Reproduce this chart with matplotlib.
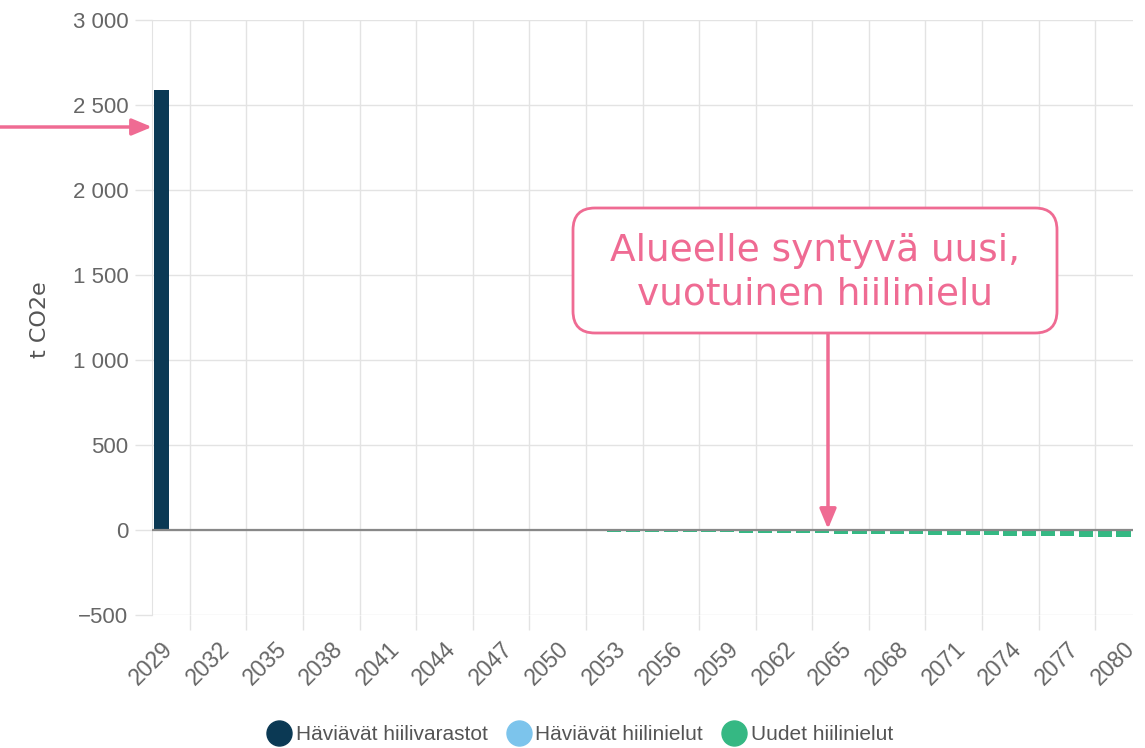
import matplotlib
matplotlib.use("Agg")
import matplotlib.pyplot as plt
import numpy as np
from matplotlib.patches import FancyBboxPatch
from matplotlib.lines import Line2D

# data
years = list(range(2029, 2081))
hiilivarastot = [2590] + [0] * 51
hiilinielut_haviavat = [0] * 52
uudet_hiilinielut = [
    0, -0.6, -0.8, -1.0, -1.3, -1.5, -1.8, -2.0, -2.3, -2.6, -2.9,
    -3.2, -3.5, -3.9, -4.2, -4.6, -5.0, -5.5, -6.0, -6.5, -7.0,
    -7.6, -8.2, -8.8, -9.5, -10.2, -11.0, -11.8, -12.6, -13.5, -14.4,
    -15.4, -16.4, -17.4, -18.5, -19.6, -20.8, -22.0, -23.2, -24.5, -25.8,
    -27.1, -28.5, -29.9, -31.3, -32.8, -34.3, -35.8, -37.4, -39.0, -40.6,
    -42.2,
]
series_names = ["Häviävät hiilivarastot", "Häviävät hiilinielut", "Uudet hiilinielut"]
series_colors = ["#0b3954", "#7cc4ec", "#35b883"]
y_ticks = [-500, 0, 500, 1000, 1500, 2000, 2500, 3000]
callout_text = "Alueelle syntyvä uusi,\nvuotuinen hiilinielu"

PINK = "#ef6b93"
GRID = "#e3e3e3"
TXT = "#666666"

W, H = 1145, 748
fig = plt.figure(figsize=(W / 100, H / 100), dpi=100)
ax = fig.add_axes([152 / W, 1 - 615 / H, (1133 - 152) / W, (615 - 20) / H])

x = np.arange(len(years))
for vals, col in zip([hiilivarastot, hiilinielut_haviavat, uudet_hiilinielut], series_colors):
    ax.bar(x, vals, width=0.75, color=col, zorder=2, linewidth=0)

ax.set_xlim(-0.5, len(years) - 0.5)
ax.set_ylim(-500, 3000)
ax.set_yticks(y_ticks)
ax.set_yticklabels([f"{v:,}".replace(",", " ").replace("-", "\u2212") for v in y_ticks],
                   fontsize=16, color=TXT, family="Liberation Sans")
ax.tick_params(axis="y", length=12, color=GRID, width=1, pad=5)
ax.grid(axis="y", color=GRID, lw=1, zorder=0)
ax.axhline(0, color="#888888", lw=1.6, zorder=3)

ax.set_xticks(x[::3])
ax.set_xticklabels([str(y) for y in years[::3]], rotation=45, ha="right",
                   rotation_mode="anchor", fontsize=16.5, color=TXT, family="Liberation Sans")
ax.tick_params(axis="x", which="major", length=0, pad=16)
ax.set_xticks(np.arange(1.5, len(years), 3), minor=True)
ax.tick_params(axis="x", which="minor", length=11, color=GRID, width=1)
ax.grid(axis="x", which="minor", color=GRID, lw=1, zorder=0)

for s in ["top", "right", "bottom"]:
    ax.spines[s].set_visible(False)
ax.spines["left"].set_color(GRID)

fig.text(40 / W, 1 - 320 / H, "t CO2e", rotation=90, ha="center", va="center",
         fontsize=16, color="#555555", family="DejaVu Sans")

# legend
handles = [Line2D([], [], marker="o", ls="", markersize=18, color=c) for c in series_colors]
leg = fig.legend(handles, series_names, loc="center", bbox_to_anchor=(581 / W, 1 - 735 / H),
                 ncol=3, frameon=False, fontsize=15, handletextpad=0.3, columnspacing=1.0,
                 handlelength=1.0)
for t in leg.get_texts():
    t.set_color("#555555")
    t.set_family(["Liberation Sans Narrow", "Liberation Sans"])

# annotations in pixel space
ov = fig.add_axes([0, 0, 1, 1], zorder=5)
ov.set_xlim(0, W)
ov.set_ylim(H, 0)
ov.axis("off")
ov.patch.set_alpha(0)

box = FancyBboxPatch((573, 208), 1057 - 573, 333 - 208,
                     boxstyle="round,pad=0,rounding_size=22",
                     fc="white", ec=PINK, lw=2)
ov.add_patch(box)
ov.text(815, 273, callout_text, ha="center", va="center", fontsize=27,
        color=PINK, family="DejaVu Sans", linespacing=1.28)

ov.annotate("", xy=(828, 529), xytext=(828, 334),
            arrowprops=dict(arrowstyle="-|>,head_length=1.2,head_width=0.5",
                            color=PINK, lw=2.5, shrinkA=0, shrinkB=0))
ov.annotate("", xy=(152, 127), xytext=(0, 127),
            arrowprops=dict(arrowstyle="-|>,head_length=1.2,head_width=0.5",
                            color=PINK, lw=2.5, shrinkA=0, shrinkB=0))

fig.savefig("out.png", dpi=100)
